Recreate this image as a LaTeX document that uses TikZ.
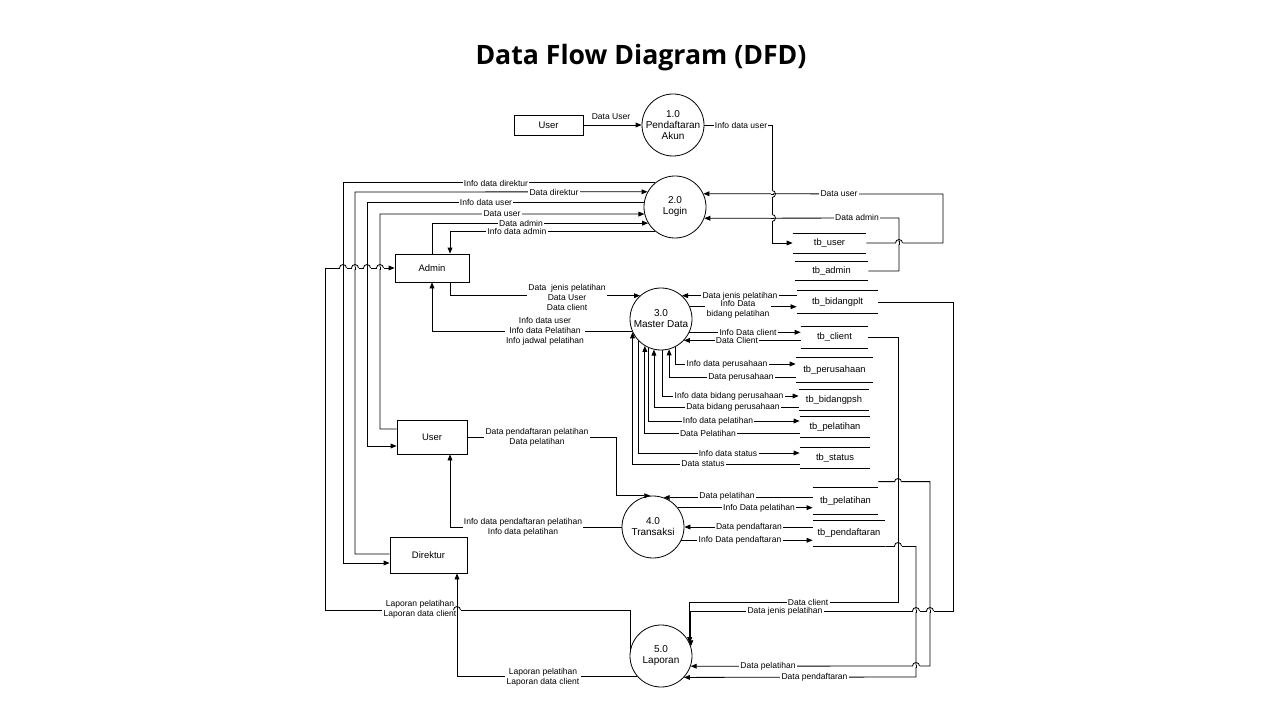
\documentclass[tikz,border=0pt]{standalone}
\usepackage{fontspec}
\setmainfont{Liberation Sans}
\newfontfamily\titlefont{Open Sans}
\usetikzlibrary{arrows.meta}

\begin{document}
\begin{tikzpicture}[x=0.75pt,y=-0.75pt,line width=0.6pt,
    proc/.style={circle,draw,minimum size=46.5pt,inner sep=0pt,align=center,font=\fontsize{7.5}{8.25}\selectfont},
    ent/.style={rectangle,draw,inner sep=0pt,font=\fontsize{7.1}{8.5}\selectfont},
    store/.style={inner sep=0pt,font=\fontsize{7}{8}\selectfont},
    flow/.style={-{Triangle[length=4.5pt,width=3.6pt]}},
    lab/.style={fill=white,inner xsep=1pt,inner ysep=0pt,align=center,font=\fontsize{6.4}{7.5}\selectfont}]
        \useasboundingbox (0,0) rectangle (1280,720);
        \node (title) at (641,58) {\titlefont\bfseries\fontsize{20}{24}\selectfont Data Flow Diagram (DFD)};

        % entitas
        \node[ent,minimum width=51.75pt,minimum height=15pt] (userA) at (548.5,125) {User};
        \node[ent,minimum width=55.5pt,minimum height=21pt] (admin) at (432,268) {Admin};
        \node[ent,minimum width=52.5pt,minimum height=25.5pt] (userB) at (432,437) {User};
        \node[ent,minimum width=57.75pt,minimum height=27pt] (direktur) at (428.5,555) {Direktur};

        % proses
        \node[proc] (pa) at (673,125) {1.0\\Pendaftaran\\Akun};
        \node[proc] (login) at (675,207) {2.0\\Login};
        \node[proc] (md) at (661,319) {3.0\\Master Data};
        \node[proc] (tr) at (653,527) {4.0\\Transaksi};
        \node[proc] (lp) at (661,656) {5.0\\Laporan};

        % data store
        \node[store,minimum width=54.75pt,minimum height=14.25pt] (tbuser) at (829.5,243) {tb\_user};
        \node[store,minimum width=54.75pt,minimum height=13.5pt] (tbadmin) at (831.5,271) {tb\_admin};
        \node[store,minimum width=60.75pt,minimum height=16.5pt] (tbbp) at (837.5,302) {tb\_bidangplt};
        \node[store,minimum width=50.25pt,minimum height=15.75pt] (tbcli) at (834.5,337.5) {tb\_client};
        \node[store,minimum width=57.75pt,minimum height=18pt] (tbper) at (834.5,370) {tb\_perusahaan};
        \node[store,minimum width=52.5pt,minimum height=15pt] (tbbps) at (834,400) {tb\_bidangpsh};
        \node[store,minimum width=52.5pt,minimum height=15pt] (tbpel) at (835,427) {tb\_pelatihan};
        \node[store,minimum width=52.5pt,minimum height=15pt] (tbsta) at (835,458) {tb\_status};
        \node[store,minimum width=48.75pt,minimum height=19.5pt] (tbplb) at (845.5,501) {tb\_pelatihan};
        \node[store,minimum width=54pt,minimum height=18.75pt] (tbdaf) at (849,533.5) {tb\_pendaftaran};
        \foreach \s in {tbuser,tbadmin,tbbp,tbcli,tbper,tbbps,tbpel,tbsta,tbplb,tbdaf}
            \draw (\s.north west)--(\s.north east) (\s.south west)--(\s.south east);

        % 1.0
        \draw[flow] (userA)--(pa) node[lab] (lpa1) at (611,117) {Data User};
        \draw[flow] (pa.east) -| (772,243)--(tbuser.west) node[lab] (lpa2) at (741,125) {Info data user};

        % 2.0
        \draw[flow] (login.129) -| (343,563)--(direktur.west |- 0,563) node[lab] (llg1) at (496,183) {Info data direktur};
        \draw[flow] (direktur.west |- 0,554) -| (355,192)--(login.151) node[lab] (llg2) at (554,192) {Data direktur};
        \draw[flow] (login.171) -| (367,446)--(userB.west |- 0,446) node[lab] (llg3) at (486,202) {Info data user};
        \draw[flow] (userB.west |- 0,429) -| (380,214)--(login.193) node[lab] (llg4) at (502,214) {Data user};
        \draw[flow] (admin.north -| 432,0) |- (login.211) node[lab] (llg5) at (521,223) {Data admin};
        \draw[flow] (login.231) -| (admin.north -| 450,0) node[lab] (llg6) at (517,231) {Info data admin};
        \draw[flow] (tbuser.east) -| (943,194)--(login.25) node[lab] (llg7) at (839,194) {Data user};
        \draw[flow] (tbadmin.east) -| (899,218)--(login.-21) node[lab] (llg8) at (857,217) {Data admin};

        % 3.0
        \draw[flow] (admin.south -| 450,0) |- (md.132) node[lab] (lmd1) at (567,297) {Data\ \ jenis pelatihan\\Data User\\Data client};
        \draw[flow] (md.203) -| (admin.south -| 432,0) node[lab] (lmd2) at (545,331) {Info data user\\Info data Pelatihan\\Info jadwal pelatihan};
        \draw[flow] (tbbp.west |- md.48)--(md.48) node[lab] (lmd3) at (740,296) {Data jenis pelatihan};
        \draw[flow] (md.23)--(tbbp.west |- md.23) node[lab] (lmd4) at (738,309.5) {Info Data\\bidang pelatihan};
        \draw[flow] (md.-25)--(tbcli.west |- md.-25) node[lab] (lmd5) at (748,332) {Info Data client};
        \draw[flow] (tbcli.west |- md.-43)--(md.-43) node[lab] (lmd6) at (737,340.5) {Data Client};
        \draw[flow] (md.-63) |- (tbper.west |- 0,364) node[lab] (lmd7) at (727,364) {Info data perusahaan};
        \draw[flow] (tbper.west |- 0,377) -| (md.-75) node[lab] (lmd8) at (741,377) {Data perusahaan};
        \draw[flow] (md.-88) |- (tbbps.west |- 0,396) node[lab] (lmd9) at (729,396) {Info data bidang perusahaan};
        \draw[flow] (tbbps.west |- 0,407) -| (md.-103) node[lab] (lmd10) at (733,407) {Data bidang perusahaan};
        \draw[flow] (md.-113) |- (tbpel.west |- 0,421) node[lab] (lmd11) at (718,421) {Info data pelatihan};
        \draw[flow] (tbpel.west |- 0,433) -| (md.-121) node[lab] (lmd12) at (708,433) {Data Pelatihan};
        \draw[flow] (md.-135) |- (tbsta.west |- 0,453) node[lab] (lmd13) at (728,453) {Info data status};
        \draw[flow] (tbsta.west |- 0,464) -| (md.-155) node[lab] (lmd14) at (703,464) {Data status};

        % 4.0
        \draw[flow] (userB.east)--(616,437) |- (tr.95) node[lab] (ltr1) at (537,437) {Data pendaftaran pelatihan\\Data pelatihan};
        \draw[flow] (tr.west) -| (userB.south -| 450,0) node[lab] (ltr2) at (523,527) {Info data pendaftaran pelatihan\\Info data pelatihan};
        \draw[flow] (tbplb.west |- tr.70)--(tr.70) node[lab] (ltr3) at (727,496) {Data pelatihan};
        \draw[flow] (tr.38)--(tbplb.west |- tr.38) node[lab] (ltr4) at (759,508) {Info Data pelatihan};
        \draw[flow] (tbdaf.west |- tr.east)--(tr.east) node[lab] (ltr5) at (749,527) {Data pendaftaran};
        \draw[flow] (tr.-25)--(tbdaf.west |- tr.-25) node[lab] (ltr6) at (740,540) {Info Data pendaftaran};

        % 5.0
        \draw[flow] (lp.172) |- (325,610) |- (admin.west) node[lab] (llp1) at (420,609.5) {Laporan pelatihan\\Laporan data client};
        \draw[flow] (lp.220) -| (direktur.south -| 457,0) node[lab] (llp2) at (543,677.5) {Laporan pelatihan\\Laporan data client};
        \draw[flow] (tbcli.east) -| (898,602) -| (lp.24) node[lab] (llp3) at (808,602) {Data client};
        \draw[flow] (tbbp.east) -| (953,611) -| (lp.18) node[lab] (llp4) at (785,611) {Data jenis pelatihan};
        \draw[flow] (tbplb.north east) ++(0,-6) -| (930,666)--(lp.-19) node[lab] (llp5) at (768,666) {Data pelatihan};
        \draw[flow] (tbdaf.south east) -| (916,677)--(lp.-43) node[lab] (llp6) at (814.5,677) {Data pendaftaran};

        % lompatan garis
        \foreach \x/\y in {343/268,355/268,367/268,380/268,457/610,899/243,898/482,898/546,916/611,930/611,916/666}{
            \fill[white] (\x-3.5,\y-1) rectangle (\x+3.5,\y+1);
            \draw (\x-3.5,\y) arc[start angle=180,end angle=360,radius=3.5];
            \draw (\x,\y-1.5)--(\x,\y+1.5);
        }
        \foreach \x/\y in {772/194,772/218}{
            \fill[white] (\x-1,\y-3.5) rectangle (\x+1,\y+3.5);
            \draw (\x,\y-3.5) arc[start angle=270,end angle=450,radius=3.5];
            \draw (\x-1.5,\y)--(\x+1.5,\y);
        }
\end{tikzpicture}
\end{document}
